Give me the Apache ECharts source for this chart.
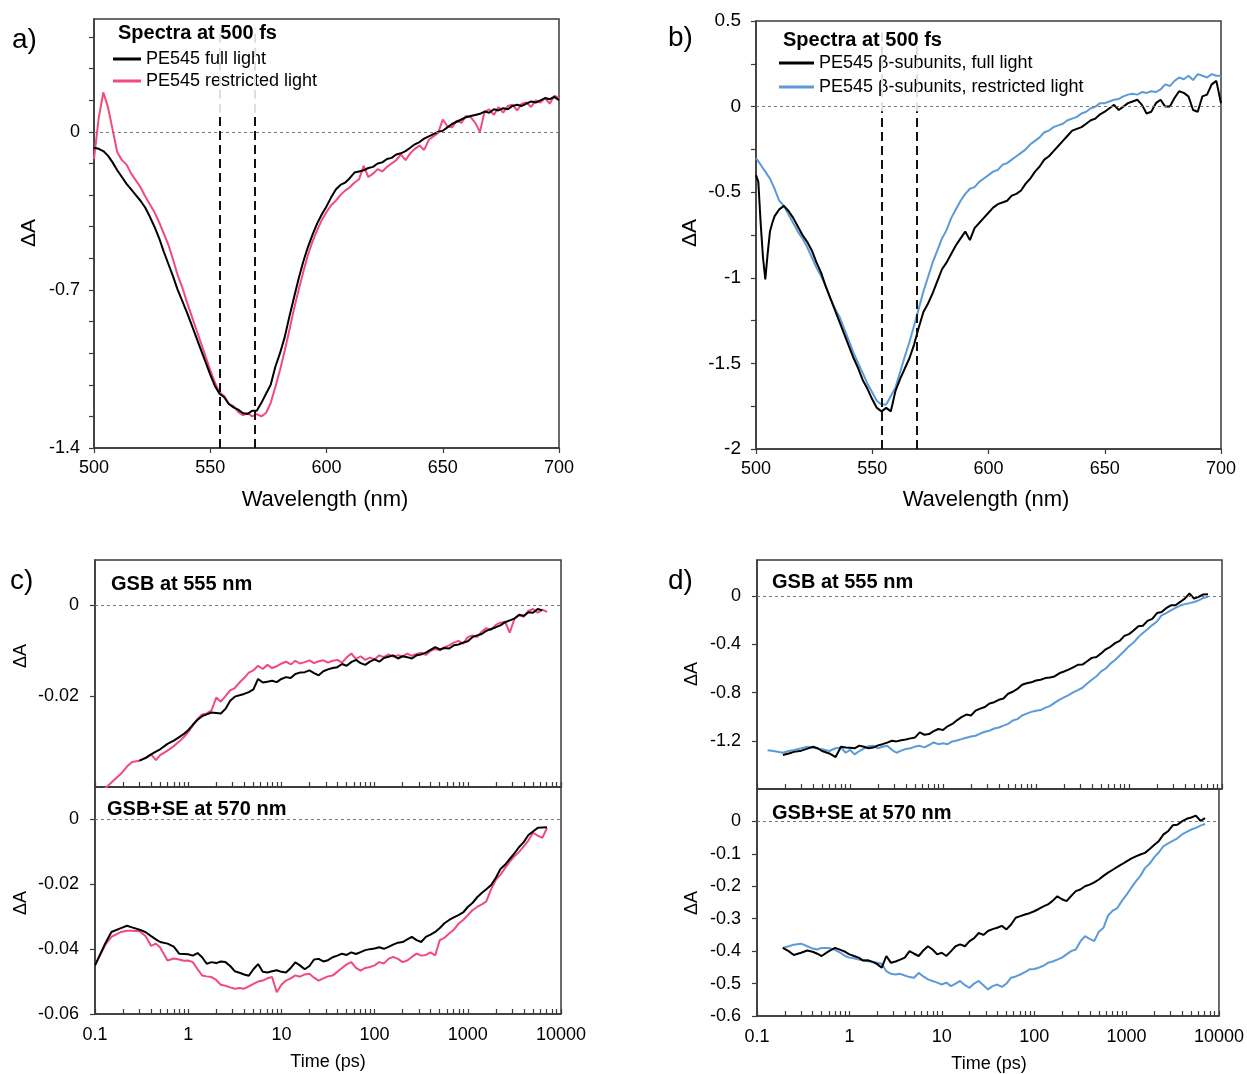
<!DOCTYPE html>
<html><head><meta charset="utf-8">
<script src="https://cdn.jsdelivr.net/npm/echarts@6.0.0/dist/echarts.min.js"></script>
<style>html,body{margin:0;padding:0;background:#fff}#c{width:1247px;height:1074px}</style>
</head><body><div id="c"></div>
<script>
// ---------- DATA ----------
const wlA = [500,502,504,506,508,510,512,514,516,518,
520,522,524,526,528,530,532,534,536,538,
540,542,544,546,548,550,552,554,556,558,
560,562,564,566,568,570,572,574,576,578,
580,582,584,586,588,590,592,594,596,598,
600,602,604,606,608,610,612,614,616,618,
620,622,624,626,628,630,632,634,636,638,
640,642,644,646,648,650,652,654,656,658,
660,662,664,666,668,670,672,674,676,678,
680,682,684,686,688,690,692,694,696,698,
700];
const aFull = [-0.070,-0.075,-0.085,-0.105,-0.135,-0.170,-0.200,-0.230,-0.255,-0.280,
-0.305,-0.335,-0.375,-0.420,-0.470,-0.530,-0.585,-0.640,-0.700,-0.750,
-0.800,-0.855,-0.910,-0.965,-1.020,-1.075,-1.125,-1.160,-1.175,-1.205,
-1.220,-1.230,-1.245,-1.250,-1.235,-1.235,-1.200,-1.160,-1.120,-1.040,
-0.980,-0.910,-0.820,-0.735,-0.650,-0.575,-0.510,-0.455,-0.405,-0.365,
-0.330,-0.290,-0.255,-0.235,-0.225,-0.205,-0.180,-0.175,-0.170,-0.160,
-0.155,-0.140,-0.135,-0.120,-0.115,-0.100,-0.095,-0.085,-0.070,-0.055,
-0.045,-0.030,-0.020,-0.010,0.000,0.005,0.020,0.035,0.045,0.055,
0.065,0.070,0.075,0.080,0.090,0.085,0.100,0.095,0.105,0.100,
0.115,0.120,0.115,0.125,0.135,0.130,0.140,0.150,0.145,0.155,
0.140];
const aRestr = [-0.120,0.060,0.175,0.110,0.010,-0.090,-0.125,-0.145,-0.185,-0.215,
-0.245,-0.285,-0.320,-0.355,-0.400,-0.450,-0.500,-0.565,-0.635,-0.690,
-0.755,-0.815,-0.875,-0.935,-0.995,-1.055,-1.110,-1.155,-1.170,-1.205,
-1.215,-1.240,-1.255,-1.245,-1.260,-1.250,-1.260,-1.245,-1.200,-1.130,
-1.055,-0.970,-0.880,-0.785,-0.700,-0.620,-0.545,-0.485,-0.435,-0.390,
-0.355,-0.325,-0.305,-0.280,-0.260,-0.245,-0.225,-0.210,-0.150,-0.200,
-0.185,-0.165,-0.175,-0.155,-0.140,-0.125,-0.100,-0.125,-0.095,-0.075,
-0.060,-0.080,-0.035,-0.020,-0.005,0.055,0.025,0.020,0.050,0.040,
0.070,0.065,0.040,0.000,0.090,0.100,0.075,0.110,0.085,0.115,
0.120,0.095,0.125,0.130,0.110,0.140,0.130,0.150,0.125,0.160,
0.150];

const wlB = [500,501,502,503,504,505,506,507,508,
510,512,514,516,518,520,522,524,526,528,
530,532,534,536,538,540,542,544,546,548,
550,552,554,556,558,560,562,564,566,568,
570,572,574,576,578,580,582,584,586,588,
590,592,594,596,598,600,602,604,606,608,
610,612,614,616,618,620,622,624,626,628,
630,632,634,636,638,640,642,644,646,648,
650,652,654,656,658,660,662,664,666,668,
670,672,674,676,678,680,682,684,686,688,
690,692,694,696,698,700];
const bFull = [-0.40,-0.44,-0.68,-0.88,-1.01,-0.86,-0.73,-0.68,-0.64,
-0.60,-0.58,-0.61,-0.65,-0.70,-0.75,-0.79,-0.84,-0.91,-0.97,
-1.05,-1.12,-1.19,-1.26,-1.33,-1.40,-1.47,-1.53,-1.60,-1.65,
-1.71,-1.76,-1.78,-1.76,-1.78,-1.66,-1.59,-1.53,-1.47,-1.39,
-1.29,-1.20,-1.15,-1.09,-1.02,-0.95,-0.91,-0.86,-0.81,-0.77,
-0.73,-0.78,-0.71,-0.68,-0.65,-0.62,-0.59,-0.57,-0.56,-0.55,
-0.52,-0.51,-0.49,-0.45,-0.42,-0.38,-0.35,-0.31,-0.29,-0.26,
-0.23,-0.20,-0.17,-0.14,-0.13,-0.12,-0.10,-0.08,-0.07,-0.045,
-0.03,-0.01,0.01,-0.02,0.00,0.02,0.03,0.04,0.01,-0.04,
-0.03,0.02,0.04,0.00,0.00,0.05,0.09,0.08,0.06,-0.02,
-0.03,0.06,0.07,0.13,0.15,0.02];
const bRestr = [-0.30,-0.32,-0.34,-0.36,-0.38,-0.40,-0.42,-0.45,-0.48,
-0.55,-0.58,-0.63,-0.68,-0.73,-0.77,-0.82,-0.88,-0.94,-0.99,
-1.05,-1.12,-1.18,-1.23,-1.30,-1.37,-1.44,-1.50,-1.56,-1.62,
-1.67,-1.72,-1.74,-1.74,-1.69,-1.64,-1.55,-1.46,-1.375,-1.28,
-1.18,-1.08,-0.995,-0.91,-0.84,-0.77,-0.72,-0.65,-0.60,-0.55,
-0.51,-0.48,-0.47,-0.44,-0.42,-0.40,-0.38,-0.37,-0.34,-0.33,
-0.31,-0.29,-0.27,-0.25,-0.22,-0.20,-0.18,-0.15,-0.14,-0.12,
-0.11,-0.10,-0.08,-0.07,-0.06,-0.04,-0.03,-0.01,0.00,0.02,
0.02,0.03,0.04,0.045,0.06,0.07,0.075,0.07,0.085,0.08,
0.09,0.085,0.10,0.13,0.12,0.15,0.17,0.16,0.18,0.155,
0.19,0.18,0.17,0.19,0.18,0.18];
const markerWl = [554, 569];

// time axis (ps) shared by panels c and d
const T = [0.1,0.13,0.15,0.19,0.22,0.25,0.3,0.35,0.4,0.45,
0.5,0.6,0.7,0.8,0.9,1,1.12,1.26,1.41,1.58,
1.78,2,2.24,2.51,2.82,3.16,3.55,3.98,4.47,5.01,
5.62,6.31,7.08,7.94,8.91,10,11.2,12.6,14.1,15.8,
17.8,20,22.4,25.1,28.2,31.6,35.5,39.8,44.7,50.1,
56.2,63.1,70.8,79.4,89.1,100,112,126,141,158,
178,200,224,251,282,316,355,398,447,501,
562,631,708,794,891,1000,1120,1260,1410,1580,
1780,2000,2240,2510,2820,3160,3550,3980,4470,5010,
5620,6310,7080];
const cUpFull = [null,null,null,null,null,null,-0.0342,-0.0336,-0.0328,-0.0322,
-0.0317,-0.0305,-0.0298,-0.0290,-0.0283,-0.0275,-0.0263,-0.0252,-0.0244,-0.0240,
-0.0236,-0.0237,-0.0238,-0.0228,-0.0210,-0.0201,-0.0198,-0.0195,-0.0191,-0.0185,
-0.0162,-0.0170,-0.0168,-0.0166,-0.0169,-0.0162,-0.0158,-0.0160,-0.0151,-0.0148,
-0.0147,-0.0143,-0.0149,-0.0154,-0.0145,-0.0141,-0.0138,-0.0136,-0.0129,-0.0133,
-0.0125,-0.0120,-0.0127,-0.0131,-0.0124,-0.0119,-0.0124,-0.0116,-0.0113,-0.0110,
-0.0117,-0.0112,-0.0114,-0.0117,-0.0110,-0.0108,-0.0104,-0.0098,-0.0092,-0.0097,
-0.0094,-0.0095,-0.0088,-0.0086,-0.0082,-0.0079,-0.0070,-0.0066,-0.0063,-0.0056,
-0.0052,-0.0048,-0.0044,-0.0037,-0.0033,-0.0029,-0.0021,-0.0023,-0.0015,-0.0016,
-0.0008,-0.0011,null];
const cUpRestr = [-0.0430,-0.0402,-0.0390,-0.0371,-0.0355,-0.0345,-0.0342,-0.0336,-0.0328,-0.0341,
-0.0330,-0.0320,-0.0310,-0.0300,-0.0290,-0.0279,-0.0265,-0.0250,-0.0240,-0.0238,
-0.0231,-0.0203,-0.0212,-0.0200,-0.0187,-0.0182,-0.0170,-0.0160,-0.0148,-0.0143,
-0.0133,-0.0140,-0.0131,-0.0138,-0.0134,-0.0128,-0.0124,-0.0130,-0.0122,-0.0128,
-0.0125,-0.0121,-0.0127,-0.0123,-0.0121,-0.0126,-0.0122,-0.0120,-0.0126,-0.0115,
-0.0106,-0.0118,-0.0112,-0.0120,-0.0115,-0.0119,-0.0110,-0.0114,-0.0108,-0.0113,
-0.0110,-0.0112,-0.0106,-0.0111,-0.0107,-0.0104,-0.0109,-0.0100,-0.0096,-0.0099,
-0.0092,-0.0088,-0.0082,-0.0078,-0.0084,-0.0070,-0.0066,-0.0070,-0.0058,-0.0050,
-0.0054,-0.0043,-0.0038,-0.0036,-0.0060,-0.0030,-0.0020,-0.0025,-0.0012,-0.0008,
-0.0016,-0.0010,-0.0014];
const cLoFull = [-0.0450,-0.0380,-0.0347,-0.0335,-0.0328,-0.0333,-0.0340,-0.0348,-0.0360,-0.0370,
-0.0378,-0.0383,-0.0392,-0.0414,-0.0415,-0.0416,-0.0420,-0.0412,-0.0425,-0.0445,
-0.0440,-0.0443,-0.0438,-0.0440,-0.0452,-0.0468,-0.0473,-0.0478,-0.0482,-0.0462,
-0.0446,-0.0470,-0.0472,-0.0468,-0.0465,-0.0470,-0.0472,-0.0458,-0.0441,-0.0450,
-0.0462,-0.0452,-0.0432,-0.0430,-0.0438,-0.0434,-0.0425,-0.0420,-0.0414,-0.0418,
-0.0410,-0.0415,-0.0409,-0.0403,-0.0400,-0.0398,-0.0394,-0.0399,-0.0393,-0.0386,
-0.0380,-0.0378,-0.0370,-0.0362,-0.0372,-0.0378,-0.0362,-0.0355,-0.0347,-0.0335,
-0.0320,-0.0310,-0.0302,-0.0295,-0.0287,-0.0270,-0.0258,-0.0240,-0.0227,-0.0215,
-0.0202,-0.0180,-0.0153,-0.0140,-0.0122,-0.0105,-0.0085,-0.0070,-0.0048,-0.0037,
-0.0026,-0.0025,-0.0024];
const cLoRestr = [-0.0450,-0.0385,-0.0362,-0.0347,-0.0343,-0.0343,-0.0345,-0.0360,-0.0390,-0.0383,
-0.0395,-0.0435,-0.0429,-0.0432,-0.0436,-0.0435,-0.0440,-0.0462,-0.0481,-0.0484,
-0.0486,-0.0495,-0.0510,-0.0513,-0.0518,-0.0522,-0.0520,-0.0522,-0.0515,-0.0507,
-0.0500,-0.0497,-0.0490,-0.0486,-0.0533,-0.0510,-0.0497,-0.0490,-0.0481,-0.0485,
-0.0478,-0.0476,-0.0488,-0.0497,-0.0490,-0.0484,-0.0481,-0.0470,-0.0458,-0.0447,
-0.0440,-0.0458,-0.0466,-0.0458,-0.0455,-0.0450,-0.0440,-0.0444,-0.0430,-0.0424,
-0.0430,-0.0440,-0.0435,-0.0424,-0.0414,-0.0420,-0.0418,-0.0410,-0.0419,-0.0372,
-0.0365,-0.0352,-0.0340,-0.0322,-0.0310,-0.0295,-0.0280,-0.0270,-0.0262,-0.0253,
-0.0215,-0.0186,-0.0170,-0.0150,-0.0130,-0.0114,-0.0100,-0.0083,-0.0065,-0.0041,
-0.0050,-0.0057,-0.0026];
const dUpFull = [null,null,null,-1.318,-1.305,-1.292,-1.282,-1.265,-1.250,-1.262,
-1.285,-1.305,-1.335,-1.250,-1.256,-1.258,-1.262,-1.240,-1.250,-1.262,
-1.256,-1.238,-1.228,-1.215,-1.200,-1.205,-1.195,-1.190,-1.180,-1.172,
-1.130,-1.150,-1.144,-1.120,-1.102,-1.110,-1.080,-1.060,-1.030,-1.004,
-0.982,-0.990,-0.950,-0.933,-0.920,-0.891,-0.880,-0.860,-0.849,-0.810,
-0.793,-0.770,-0.735,-0.722,-0.715,-0.700,-0.694,-0.680,-0.675,-0.666,
-0.640,-0.625,-0.610,-0.590,-0.570,-0.568,-0.540,-0.512,-0.505,-0.475,
-0.441,-0.420,-0.390,-0.371,-0.330,-0.315,-0.285,-0.250,-0.245,-0.205,
-0.188,-0.140,-0.132,-0.100,-0.076,-0.075,-0.048,-0.020,0.022,-0.020,
-0.005,0.014,0.015];
const dUpRestr = [null,-1.279,-1.285,-1.299,-1.285,-1.276,-1.262,-1.250,-1.258,-1.265,
-1.270,-1.285,-1.262,-1.256,-1.299,-1.275,-1.313,-1.285,-1.265,-1.245,
-1.242,-1.262,-1.250,-1.242,-1.275,-1.299,-1.282,-1.268,-1.262,-1.248,
-1.242,-1.255,-1.235,-1.214,-1.228,-1.220,-1.228,-1.205,-1.198,-1.186,
-1.175,-1.165,-1.158,-1.140,-1.125,-1.116,-1.098,-1.090,-1.074,-1.060,
-1.032,-1.020,-0.990,-0.975,-0.960,-0.950,-0.945,-0.925,-0.912,-0.885,
-0.860,-0.840,-0.821,-0.798,-0.780,-0.760,-0.725,-0.694,-0.665,-0.624,
-0.600,-0.560,-0.530,-0.492,-0.455,-0.415,-0.385,-0.340,-0.305,-0.275,
-0.240,-0.210,-0.160,-0.140,-0.118,-0.098,-0.078,-0.066,-0.058,-0.048,
-0.035,-0.015,-0.005];
const dLoFull = [null,null,null,-0.390,-0.400,-0.412,-0.405,-0.398,-0.402,-0.408,
-0.415,-0.400,-0.390,-0.396,-0.402,-0.410,-0.415,-0.420,-0.429,-0.428,
-0.433,-0.440,-0.451,-0.415,-0.436,-0.432,-0.426,-0.420,-0.400,-0.408,
-0.415,-0.398,-0.385,-0.395,-0.410,-0.405,-0.415,-0.400,-0.385,-0.379,
-0.385,-0.369,-0.360,-0.344,-0.350,-0.338,-0.332,-0.328,-0.322,-0.333,
-0.318,-0.297,-0.292,-0.287,-0.283,-0.277,-0.270,-0.262,-0.256,-0.245,
-0.231,-0.240,-0.246,-0.230,-0.215,-0.210,-0.200,-0.195,-0.188,-0.179,
-0.168,-0.158,-0.149,-0.140,-0.132,-0.123,-0.115,-0.108,-0.102,-0.097,
-0.085,-0.072,-0.060,-0.040,-0.030,-0.012,-0.010,0.000,0.008,0.012,
0.018,0.002,0.010];
const dLoRestr = [null,null,null,-0.390,-0.385,-0.380,-0.377,-0.385,-0.392,-0.395,
-0.390,-0.390,-0.396,-0.405,-0.415,-0.420,-0.422,-0.426,-0.428,-0.431,
-0.433,-0.436,-0.439,-0.462,-0.470,-0.472,-0.470,-0.475,-0.480,-0.482,
-0.467,-0.478,-0.487,-0.492,-0.497,-0.503,-0.497,-0.508,-0.500,-0.492,
-0.505,-0.513,-0.500,-0.492,-0.505,-0.518,-0.508,-0.503,-0.510,-0.500,
-0.482,-0.478,-0.472,-0.465,-0.456,-0.455,-0.451,-0.445,-0.436,-0.432,
-0.426,-0.420,-0.410,-0.400,-0.395,-0.370,-0.354,-0.362,-0.369,-0.340,
-0.328,-0.290,-0.275,-0.267,-0.245,-0.226,-0.205,-0.185,-0.168,-0.144,
-0.130,-0.110,-0.095,-0.076,-0.068,-0.060,-0.052,-0.040,-0.032,-0.025,
-0.020,-0.013,-0.008];

// tick values
const aYTicks = [-1.4,-1.26,-1.12,-0.98,-0.84,-0.7,-0.56,-0.42,-0.28,-0.14,0,0.14,0.28,0.42];
const aYLabels = [-1.4,-0.7,0];
const bYTicks = [-2,-1.75,-1.5,-1.25,-1,-0.75,-0.5,-0.25,0,0.25,0.5];
const bYLabels = [-2,-1.5,-1,-0.5,0,0.5];
const wlTicks = [500,550,600,650,700];
const logTicks = [0.1,0.2,0.3,0.4,0.5,0.6,0.7,0.8,0.9,1,2,3,4,5,6,7,8,9,10,20,30,40,50,60,70,80,90,
100,200,300,400,500,600,700,800,900,1000,2000,3000,4000,5000,6000,7000,8000,9000,10000];
const logLabels = [0.1,1,10,100,1000,10000];
const cUpYLabels = [-0.02,0];
const cLoYLabels = [-0.06,-0.04,-0.02,0];
const dUpYLabels = [-1.2,-0.8,-0.4,0];
const dLoYLabels = [-0.6,-0.5,-0.4,-0.3,-0.2,-0.1,0];

// ---------- CHART ----------
const FONT = '"Liberation Sans", Arial, Helvetica, sans-serif';
const PINK = '#F24A7A', BLUE = '#5B9BD7', BLK = '#000000', AX = '#3a3a3a';
function pairs(xs, ys){ const o=[]; for(let i=0;i<xs.length;i++){ if(ys[i]!==null&&ys[i]!==undefined) o.push([xs[i],ys[i]]); } return o; }
function fmt(v){ return String(Math.round(v*10000)/10000); }

const grids = [
  {left:94, top:19, width:465, height:429},
  {left:756, top:21, width:465, height:428},
  {left:95, top:560, width:466, height:227},
  {left:95, top:787, width:466, height:227},
  {left:757, top:560, width:465, height:229},
  {left:757, top:789, width:465, height:227}
].map(g => Object.assign(g, {show:true, borderColor:AX, borderWidth:1.5, containLabel:false}));

function valX(gi){
  return {gridIndex:gi, type:'value', min:500, max:700, interval:50,
    axisLine:{show:true, onZero:false, lineStyle:{color:AX, width:1.5}},
    axisTick:{show:true, length:5, customValues: wlTicks, lineStyle:{color:AX, width:1.2}},
    axisLabel:{show:true, customValues: wlTicks, fontSize:18, color:'#000', margin:11},
    splitLine:{show:false}};
}
function logX(gi, labels){
  return {gridIndex:gi, type:'log', logBase:10, min:0.1, max:10000,
    axisLine:{show:true, onZero:false, lineStyle:{color:AX, width:1.5}},
    axisTick:{show:true, inside:true, length:5, customValues: logTicks, lineStyle:{color:AX, width:1.2}},
    axisLabel:{show:labels, customValues: logLabels, fontSize:18, color:'#000', margin:12, formatter: v => String(v)},
    splitLine:{show:false}, minorTick:{show:false}};
}
function valY(gi, min, max, ticks, labels, fs, margin){
  return {gridIndex:gi, type:'value', min, max,
    axisLine:{show:true, onZero:false, lineStyle:{color:AX, width:1.5}},
    axisTick:{show:true, length:5, customValues: ticks, lineStyle:{color:AX, width:1.2}},
    axisLabel:{show:true, customValues: labels, fontSize:fs, color:'#000', margin, formatter: fmt},
    splitLine:{show:false}};
}

const zeroLine = {yAxis:0, lineStyle:{color:'#777', type:[3,3], width:1}};
function vDash(w, y0, y1, color){
  const ls = {color, type:[9,5], width:2};
  return [{coord:[w,y0], lineStyle:ls}, {coord:[w,y1], lineStyle:ls}];
}
function mk(data){ return {silent:true, symbol:['none','none'], label:{show:false}, emphasis:{disabled:true}, animation:false, data}; }
function ln(name, gi, data, color, extra){
  return Object.assign({type:'line', name, xAxisIndex:gi, yAxisIndex:gi, data, showSymbol:false, symbol:'none',
    lineStyle:{color, width:2}, itemStyle:{color}, animation:false, silent:true, z:2}, extra||{});
}

const series = [
  ln('PE545 restricted light', 0, pairs(wlA, aRestr), PINK, {markLine: mk([zeroLine,
      vDash(markerWl[0], 0.085, 0.46, '#dedede'), vDash(markerWl[1], 0.085, 0.46, '#dedede')])}),
  ln('PE545 full light', 0, pairs(wlA, aFull), BLK, {markLine: mk([
      vDash(markerWl[0], -1.4, 0.085, '#111'), vDash(markerWl[1], -1.4, 0.085, '#111')])}),
  ln('PE545 β-subunits, restricted light', 1, pairs(wlB, bRestr), BLUE, {markLine: mk([zeroLine,
      vDash(markerWl[0], -0.027, 0.46, '#dedede'), vDash(markerWl[1], -0.027, 0.46, '#dedede')])}),
  ln('PE545 β-subunits, full light', 1, pairs(wlB, bFull), BLK, {markLine: mk([
      vDash(markerWl[0], -2, -0.027, '#111'), vDash(markerWl[1], -2, -0.027, '#111')])}),
  ln('c-up-r', 2, pairs(T, cUpRestr), PINK, {markLine: mk([zeroLine])}),
  ln('c-up-f', 2, pairs(T, cUpFull), BLK),
  ln('c-lo-r', 3, pairs(T, cLoRestr), PINK, {markLine: mk([zeroLine])}),
  ln('c-lo-f', 3, pairs(T, cLoFull), BLK),
  ln('d-up-r', 4, pairs(T, dUpRestr), BLUE, {markLine: mk([zeroLine])}),
  ln('d-up-f', 4, pairs(T, dUpFull), BLK),
  ln('d-lo-r', 5, pairs(T, dLoRestr), BLUE, {markLine: mk([zeroLine])}),
  ln('d-lo-f', 5, pairs(T, dLoFull), BLK)
];

function txt(text, x, y, size, opts){
  opts = opts || {};
  return {type:'text', x, y, rotation: opts.rot || 0, z:100, silent:true,
    style:{text, fill:'#000', fontSize:size, fontFamily:FONT, fontWeight: opts.bold ? 'bold' : 'normal',
      align: opts.align || 'left', verticalAlign:'middle'}};
}
const R = Math.PI/2;
const graphics = [
  txt('a)', 12, 40, 28), txt('b)', 668, 38, 28), txt('c)', 10, 581, 28), txt('d)', 668, 581, 28),
  txt('Spectra at 500 fs', 118, 33, 20, {bold:true}),
  txt('Spectra at 500 fs', 783, 40, 20, {bold:true}),
  txt('GSB at 555 nm', 111, 584, 20, {bold:true}),
  txt('GSB+SE at 570 nm', 107, 809, 20, {bold:true}),
  txt('GSB at 555 nm', 772, 582, 20, {bold:true}),
  txt('GSB+SE at 570 nm', 772, 813, 20, {bold:true}),
  txt('ΔA', 29, 233, 21, {rot:R, align:'center'}),
  txt('ΔA', 690, 233, 21, {rot:R, align:'center'}),
  txt('ΔA', 21, 656, 18, {rot:R, align:'center'}),
  txt('ΔA', 21, 903, 18, {rot:R, align:'center'}),
  txt('ΔA', 692, 674, 18, {rot:R, align:'center'}),
  txt('ΔA', 692, 903, 18, {rot:R, align:'center'}),
  txt('Wavelength (nm)', 325, 500, 22, {align:'center'}),
  txt('Wavelength (nm)', 986, 500, 22, {align:'center'}),
  txt('Time (ps)', 328, 1062, 18, {align:'center'}),
  txt('Time (ps)', 989, 1064, 18, {align:'center'})
];

const chart = echarts.init(document.getElementById('c'), null, {renderer:'canvas', width:1247, height:1074});
chart.setOption({
  backgroundColor:'#ffffff',
  animation:false,
  textStyle:{fontFamily:FONT},
  grid: grids,
  xAxis:[valX(0), valX(1), logX(2,false), logX(3,true), logX(4,false), logX(5,true)],
  yAxis:[
    valY(0, -1.4, 0.5, aYTicks, aYLabels, 18, 14),
    valY(1, -2, 0.5, bYTicks, bYLabels, 19, 15),
    valY(2, -0.04, 0.01, cUpYLabels, cUpYLabels, 18, 16),
    valY(3, -0.06, 0.01, cLoYLabels, cLoYLabels, 18, 16),
    valY(4, -1.6, 0.3, dUpYLabels, dUpYLabels, 18, 16),
    valY(5, -0.6, 0.1, dLoYLabels, dLoYLabels, 18, 16)
  ],
  legend:[
    {data:['PE545 full light','PE545 restricted light'], left:108, top:45, orient:'vertical',
     itemWidth:28, itemHeight:3, icon:'rect', itemGap:4, selectedMode:false,
     textStyle:{fontSize:18, color:'#000', fontFamily:FONT}},
    {data:['PE545 β-subunits, full light','PE545 β-subunits, restricted light'], left:774, top:49, orient:'vertical',
     itemWidth:35, itemHeight:3, icon:'rect', itemGap:6, selectedMode:false,
     textStyle:{fontSize:18, color:'#000', fontFamily:FONT}}
  ],
  graphic: graphics,
  series
});
</script></body></html>
